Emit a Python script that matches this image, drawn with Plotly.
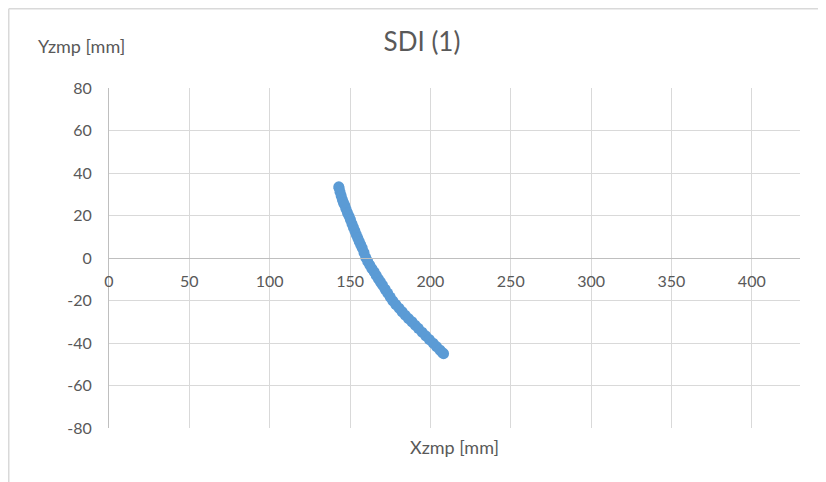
import plotly.graph_objects as go

# Data (Xzmp, Yzmp in mm)
xzmp = [143.0, 143.2, 143.8, 144.5, 145.2, 145.9, 146.7, 147.5, 148.4, 149.4,
        150.3, 151.2, 152.1, 153.0, 153.9, 154.8, 155.7, 156.6, 157.6, 158.7,
        159.8, 161.0, 162.3, 163.6, 165.0, 166.3, 167.6, 168.9, 170.2, 171.8,
        173.4, 175.0, 176.6, 178.5, 180.5, 182.4, 184.3, 186.4, 188.5, 190.5,
        192.5, 194.8, 197.1, 199.4, 201.7, 203.8, 205.9, 207.5, 208.2]
yzmp = [33.5, 32.8, 31.0, 29.2, 27.5, 26.0, 24.8, 23.0, 21.2, 19.6,
        17.9, 16.1, 14.4, 12.7, 11.0, 9.4, 7.8, 6.3, 4.6, 2.5,
        0.2, -1.6, -3.4, -5.0, -6.5, -8.2, -9.8, -11.3, -12.8, -14.7,
        -16.5, -18.4, -20.2, -21.9, -23.6, -25.3, -26.9, -28.5, -30.0, -31.6,
        -33.1, -34.9, -36.6, -38.4, -40.1, -41.7, -43.3, -44.5, -45.0]

x_ticks = [0, 50, 100, 150, 200, 250, 300, 350, 400]
y_ticks = [-80, -60, -40, -20, 0, 20, 40, 60, 80]

title_text = "SDI (1)"
x_title = "Xzmp [mm]"
y_title = "Yzmp [mm]"

FONT = "Lato"
TICK_COLOR = "#595959"
GRID = "#d9d9d9"
AXIS = "#bfbfbf"

fig = go.Figure()
fig.add_trace(go.Scatter(
    x=xzmp, y=yzmp, mode="markers",
    marker=dict(size=11, color="#5b9bd5", line=dict(width=0)),
    showlegend=False, hoverinfo="x+y",
))

# The page has an 8px body margin, so the figure is 8px smaller than the window
OFF = 8
W, H = 826 - OFF, 482 - OFF
L, T = 109 - OFF, 88 - OFF
R = W - (800 - OFF)
B = H - (428 - OFF)
pw, ph = W - L - R, H - T - B

def px2x(page_px):
    return (page_px - OFF - L) / pw

def py2y(page_py):
    return (H - B - (page_py - OFF)) / ph

fig.update_layout(
    width=W, height=H,
    margin=dict(l=L, r=R, t=T, b=B, autoexpand=False),
    paper_bgcolor="white", plot_bgcolor="white",
    font=dict(family=FONT, color=TICK_COLOR, size=16),
    title=dict(text=title_text, x=(422 - OFF) / W, y=1 - (42 - OFF) / H,
               xanchor="center", yanchor="middle",
               font=dict(family=FONT, size=26, color=TICK_COLOR)),
    xaxis=dict(
        range=[0, 430], tickvals=x_ticks, ticktext=[str(v) for v in x_ticks],
        showgrid=True, gridcolor=GRID, gridwidth=1, zeroline=False,
        showline=True, linecolor=AXIS, linewidth=1,
        anchor="free", position=0.5, automargin=False,
        ticks="outside", ticklen=0, ticklabelstandoff=9,
        tickfont=dict(family=FONT, size=16, color=TICK_COLOR),
    ),
    yaxis=dict(
        range=[-80, 80], tickvals=y_ticks, ticktext=[str(v) for v in y_ticks],
        showgrid=True, gridcolor=GRID, gridwidth=1, zeroline=False,
        showline=True, linecolor=AXIS, linewidth=1, automargin=False,
        ticks="outside", ticklen=0, ticklabelstandoff=13,
        tickfont=dict(family=FONT, size=16, color=TICK_COLOR),
    ),
    annotations=[
        dict(text=y_title, xref="paper", yref="paper", x=px2x(81), y=py2y(46),
             xanchor="center", yanchor="middle", showarrow=False,
             font=dict(family=FONT, size=18, color=TICK_COLOR)),
        dict(text=x_title, xref="paper", yref="paper", x=px2x(454), y=py2y(447),
             xanchor="center", yanchor="middle", showarrow=False,
             font=dict(family=FONT, size=18, color=TICK_COLOR)),
    ],
    shapes=[
        dict(type="line", xref="paper", yref="paper", x0=px2x(8.75), x1=px2x(840),
             y0=py2y(8.75), y1=py2y(8.75), line=dict(color=GRID, width=1.5)),
        dict(type="line", xref="paper", yref="paper", x0=px2x(8.75), x1=px2x(8.75),
             y0=py2y(8.75), y1=py2y(500), line=dict(color=GRID, width=1.5)),
    ],
)

fig.write_html("out.html")
